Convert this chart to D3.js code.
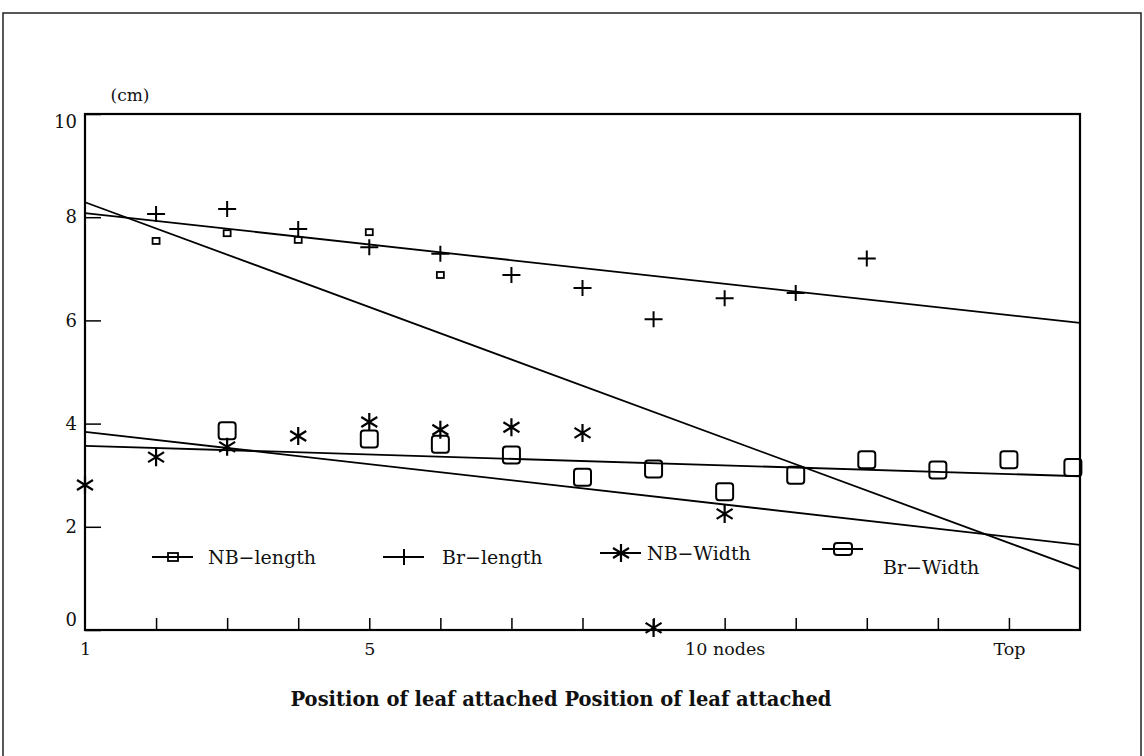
<!DOCTYPE html>
<html>
<head>
<meta charset="utf-8">
<script src="https://cdn.jsdelivr.net/npm/d3@7"></script>
<style>
  body { margin: 0; background: #fff; }
  svg { display: block; }
  text { font-family: "DejaVu Serif", serif; fill: #111; }
</style>
</head>
<body>
<svg id="chart" width="1144" height="756"></svg>
<script>
// values (x = leaf position, y = cm)
const brLenX = [2, 3, 4, 5, 6, 7, 8, 9, 10, 11, 12]
const brLenY = [8.06, 8.16, 7.77, 7.42, 7.29, 6.88, 6.63, 6.02, 6.43, 6.53, 7.2]
const nbLenX = [2, 3, 4, 5, 6]
const nbLenY = [7.54, 7.69, 7.56, 7.71, 6.88]
const nbWidX = [1, 2, 3, 4, 5, 6, 7, 8, 9, 10]
const nbWidY = [2.81, 3.35, 3.55, 3.76, 4.03, 3.88, 3.93, 3.82, 0.04, 2.25]
const brWidX = [3, 5, 6, 7, 8, 9, 10, 11, 12, 13, 14, 14.9]
const brWidY = [3.86, 3.70, 3.60, 3.39, 2.96, 3.12, 2.68, 3.0, 3.3, 3.1, 3.3, 3.15]

// straight fitted lines, ends read at x = 1 and x = 15
const fitX = [1, 15]
const brLenFit = [8.08, 5.95]
const nbLenFit = [8.29, 1.18]
const nbWidFit = [3.84, 1.65]
const brWidFit = [3.57, 2.98]

const yTicks = [0, 2, 4, 6, 8, 10]
const xLabelPos = [1, 5, 10, 14]
const xTickLabels = ["1", "5", "10 nodes", "Top"]
const legendLabels = ["NB\u2212length", "Br\u2212length", "NB\u2212Width", "Br\u2212Width"]
const legendKinds = ["nbLen", "brLen", "nbWid", "brWid"]

const svg = d3.select("#chart")

// plot box
const plotL = 85, plotR = 1080, plotT = 114, plotB = 630

const x = d3.scaleLinear().domain([1, 15]).range([plotL, plotR])
const y = d3.scaleLinear().domain([0, 10]).range([plotB, plotT])

// outer page frame
svg.append("rect")
    .attr("x", 3).attr("y", 13)
    .attr("width", 1138).attr("height", 800)
    .attr("fill", "none").attr("stroke", "#222").attr("stroke-width", 1.5)

svg.append("rect")
    .attr("x", plotL).attr("y", plotT)
    .attr("width", plotR - plotL).attr("height", plotB - plotT)
    .attr("fill", "none").attr("stroke", "#000").attr("stroke-width", 2.2)

// y axis, ticks pointing inward
const yAxis = svg.append("g")
    .attr("transform", `translate(${plotL},0)`)
    .call(d3.axisLeft(y).tickValues(yTicks).tickSize(-16).tickPadding(8).tickFormat(d3.format("d")))
yAxis.select(".domain").remove()
yAxis.selectAll("line").attr("stroke", "#000").attr("stroke-width", 1.5)
yAxis.selectAll("text")
    .style("font-family", "DejaVu Serif").style("font-size", "18px").attr("fill", "#111")
    .attr("dy", d => d === 0 ? "-0.25em" : d === 10 ? "0.75em" : "0.32em")

// x axis: short inward ticks at every node
const xAxis = svg.append("g")
    .attr("transform", `translate(0,${plotB})`)
    .call(d3.axisBottom(x).tickValues(d3.range(2, 15)).tickSize(-12).tickFormat(""))
xAxis.select(".domain").remove()
xAxis.selectAll("line").attr("stroke", "#000").attr("stroke-width", 1.5)

const xLab = svg.append("g")
    .attr("transform", `translate(0,${plotB})`)
    .call(d3.axisBottom(x).tickValues(xLabelPos).tickSize(0).tickPadding(13)
        .tickFormat((d, i) => xTickLabels[i]))
xLab.select(".domain").remove()
xLab.selectAll("text")
    .style("font-family", "DejaVu Serif").style("font-size", "17.5px").attr("fill", "#111")

svg.append("text")
    .attr("x", 130).attr("y", 101)
    .attr("text-anchor", "middle")
    .style("font-size", "17px")
    .text("(cm)")

// fitted lines
const fits = [brLenFit, nbLenFit, nbWidFit, brWidFit]
svg.append("g")
    .selectAll("line")
    .data(fits)
    .enter()
    .append("line")
        .attr("x1", x(fitX[0])).attr("x2", x(fitX[1]))
        .attr("y1", d => y(d[0])).attr("y2", d => y(d[1]))
        .attr("stroke", "#000").attr("stroke-width", 1.8)

// marker drawing
const plusPath = "M-9,0H9M0,-8V8"
const starPath = "M0,-9V9M-8,-5L8,5M-8,5L8,-5"

function drawMarker(g, kind) {
    if (kind === "nbLen") {
        g.append("rect").attr("x", -3.5).attr("y", -3).attr("width", 7).attr("height", 6)
            .attr("fill", "none").attr("stroke", "#000").attr("stroke-width", 1.8)
    } else if (kind === "brLen") {
        g.append("path").attr("d", plusPath).attr("fill", "none")
            .attr("stroke", "#000").attr("stroke-width", 2)
    } else if (kind === "nbWid") {
        g.append("path").attr("d", starPath).attr("fill", "none")
            .attr("stroke", "#000").attr("stroke-width", 2.2)
    } else {
        g.append("rect").attr("x", -8.5).attr("y", -8.5).attr("width", 17).attr("height", 17)
            .attr("rx", 3).attr("fill", "none").attr("stroke", "#000").attr("stroke-width", 2)
    }
}

const series = [
    {kind: "nbLen", xs: nbLenX, ys: nbLenY},
    {kind: "brLen", xs: brLenX, ys: brLenY},
    {kind: "nbWid", xs: nbWidX, ys: nbWidY},
    {kind: "brWid", xs: brWidX, ys: brWidY}
]

series.forEach(s => {
    svg.append("g")
        .selectAll("g")
        .data(s.xs.map((v, i) => [v, s.ys[i]]))
        .enter()
        .append("g")
            .attr("transform", d => `translate(${x(d[0])},${y(d[1])})`)
            .each(function() { drawMarker(d3.select(this), s.kind) })
})

// legend inside the plot
const legLineX = [152, 383, 600, 822]
const legSymY = [557, 557, 553, 549]
const legTextX = [208, 442, 647, 883]
const legTextY = [557, 557, 553, 567]

legendLabels.forEach((name, i) => {
    const g = svg.append("g")
    g.append("line")
        .attr("x1", legLineX[i]).attr("x2", legLineX[i] + 41)
        .attr("y1", legSymY[i]).attr("y2", legSymY[i])
        .attr("stroke", "#000").attr("stroke-width", 1.8)
    const m = g.append("g").attr("transform", `translate(${legLineX[i] + 21},${legSymY[i]})`)
    if (legendKinds[i] === "brWid") {
        m.append("rect").attr("x", -9).attr("y", -6).attr("width", 18).attr("height", 12)
            .attr("rx", 3).attr("fill", "none").attr("stroke", "#000").attr("stroke-width", 2)
    } else if (legendKinds[i] === "nbLen") {
        m.append("rect").attr("x", -5).attr("y", -4).attr("width", 10).attr("height", 8)
            .attr("fill", "none").attr("stroke", "#000").attr("stroke-width", 1.8)
    } else {
        drawMarker(m, legendKinds[i])
    }
    g.append("text")
        .attr("x", legTextX[i]).attr("y", legTextY[i])
        .attr("dy", "0.35em")
        .style("font-size", "19px")
        .text(name)
})

svg.append("text")
    .attr("x", 561).attr("y", 706)
    .attr("text-anchor", "middle")
    .style("font-size", "19.5px")
    .style("font-weight", "bold")
    .text("Position of leaf attached Position of leaf attached")
</script>
</body>
</html>
